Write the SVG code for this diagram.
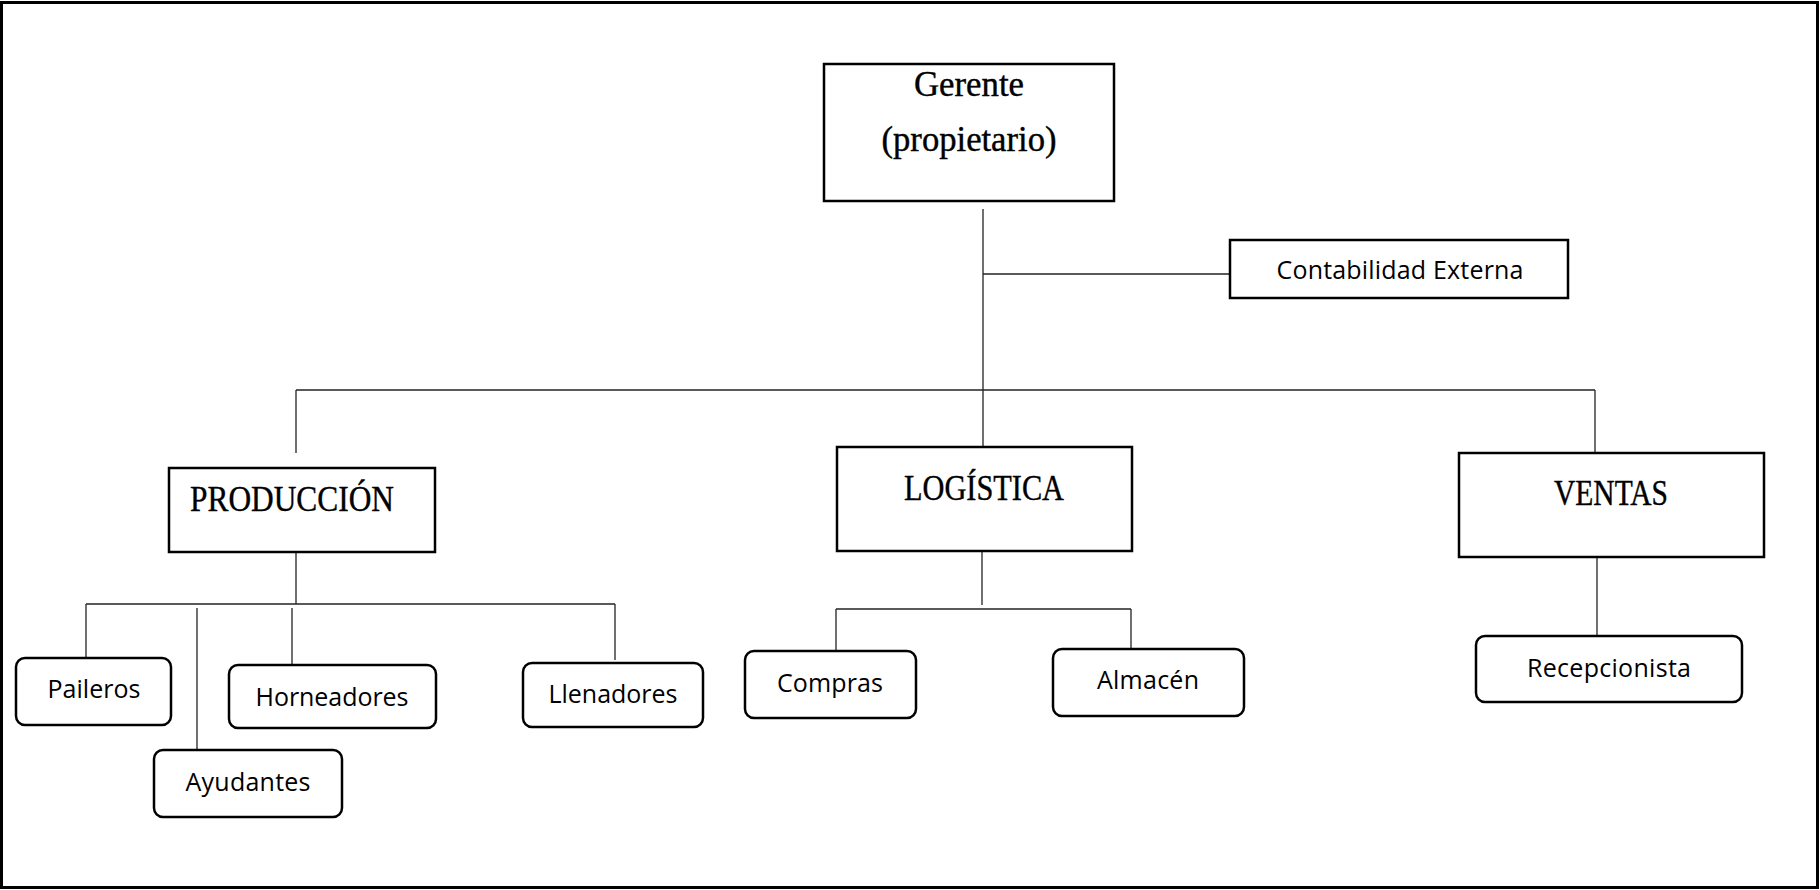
<svg xmlns="http://www.w3.org/2000/svg" width="1820" height="890" viewBox="0 0 1820 890">
<style>
.frame{fill:#fff;stroke:#000;stroke-width:3}
.box{fill:#fff;stroke:#000;stroke-width:2.5}
.rbox{fill:#fff;stroke:#000;stroke-width:2.5}
.conn line{stroke:#222;stroke-width:1.3}
.head{font-family:"Liberation Serif","DejaVu Serif",serif;font-size:35px;fill:#000;stroke:#000;stroke-width:0.4}
.big{font-size:35px}
.lbl{font-family:"Open Sans","Noto Sans","Liberation Sans",sans-serif;font-size:25px;fill:#000;text-anchor:middle}
</style>
<rect class="frame" x="1.5" y="2.5" width="1816" height="885"/>
<g class="conn" id="connectors">
<line x1="983" y1="209" x2="983" y2="447"/>
<line x1="983" y1="274" x2="1230" y2="274"/>
<line x1="296" y1="390" x2="1595" y2="390"/>
<line x1="296" y1="390" x2="296" y2="453"/>
<line x1="1595" y1="390" x2="1595" y2="453"/>
<line x1="296" y1="552" x2="296" y2="604"/>
<line x1="86" y1="604" x2="615" y2="604"/>
<line x1="86" y1="604" x2="86" y2="658"/>
<line x1="197" y1="608" x2="197" y2="750"/>
<line x1="292" y1="608" x2="292" y2="665"/>
<line x1="615" y1="604" x2="615" y2="660"/>
<line x1="982" y1="551" x2="982" y2="605"/>
<line x1="836" y1="609" x2="1131" y2="609"/>
<line x1="836" y1="609" x2="836" y2="651"/>
<line x1="1131" y1="609" x2="1131" y2="649"/>
<line x1="1597" y1="555" x2="1597" y2="636"/>
</g>
<g id="gerente">
<rect class="box" x="824" y="64" width="290" height="137"/>
<text class="head big" x="969" y="96" text-anchor="middle" textLength="110" lengthAdjust="spacingAndGlyphs">Gerente</text>
<text class="head big" x="969" y="151" text-anchor="middle" textLength="175" lengthAdjust="spacingAndGlyphs">(propietario)</text>
</g>
<g id="contabilidad">
<rect class="box" x="1230" y="240" width="338" height="58"/>
<text class="lbl" x="1400" y="279" textLength="247">Contabilidad Externa</text>
</g>
<g id="produccion">
<rect class="box" x="169" y="468" width="266" height="84"/>
<text class="head" x="190" y="511" textLength="204" lengthAdjust="spacingAndGlyphs">PRODUCCIÓN</text>
</g>
<g id="logistica">
<rect class="box" x="837" y="447" width="295" height="104"/>
<text class="head" x="984" y="500" text-anchor="middle" textLength="160" lengthAdjust="spacingAndGlyphs">LOGÍSTICA</text>
</g>
<g id="ventas">
<rect class="box" x="1459" y="453" width="305" height="104"/>
<text class="head" x="1611" y="505" text-anchor="middle" textLength="114" lengthAdjust="spacingAndGlyphs">VENTAS</text>
</g>
<g id="paileros">
<rect class="rbox" x="16" y="658" width="155" height="67" rx="9"/>
<text class="lbl" x="94" y="698" textLength="93">Paileros</text>
</g>
<g id="ayudantes">
<rect class="rbox" x="154" y="750" width="188" height="67" rx="9"/>
<text class="lbl" x="248" y="791" textLength="125">Ayudantes</text>
</g>
<g id="horneadores">
<rect class="rbox" x="229" y="665" width="207" height="63" rx="9"/>
<text class="lbl" x="332" y="706" textLength="153">Horneadores</text>
</g>
<g id="llenadores">
<rect class="rbox" x="523" y="663" width="180" height="64" rx="9"/>
<text class="lbl" x="613" y="703" textLength="129">Llenadores</text>
</g>
<g id="compras">
<rect class="rbox" x="745" y="651" width="171" height="67" rx="9"/>
<text class="lbl" x="830" y="692" textLength="106">Compras</text>
</g>
<g id="almacen">
<rect class="rbox" x="1053" y="649" width="191" height="67" rx="9"/>
<text class="lbl" x="1148" y="689" textLength="102">Almacén</text>
</g>
<g id="recepcionista">
<rect class="rbox" x="1476" y="636" width="266" height="66" rx="9"/>
<text class="lbl" x="1609" y="677" textLength="164">Recepcionista</text>
</g>
</svg>
